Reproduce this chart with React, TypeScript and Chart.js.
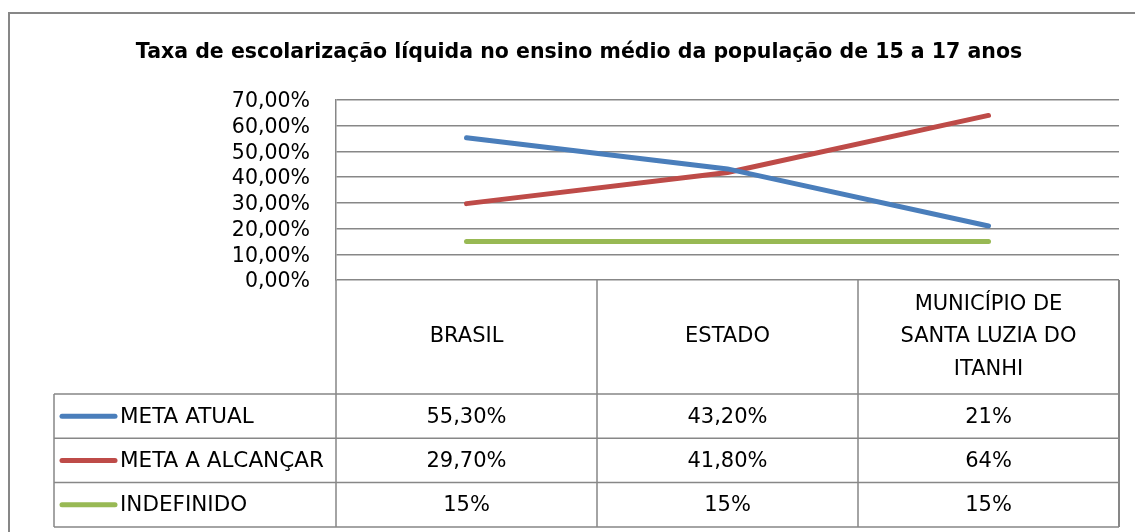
import React, { useEffect, useRef } from "react";
import { Chart, registerables } from "chart.js";

Chart.register(...registerables);

const title = "Taxa de escolarização líquida no ensino médio da população de 15 a 17 anos";
const categories = ["BRASIL", "ESTADO", "MUNICÍPIO DE SANTA LUZIA DO ITANHI"];
const categoryLines = [["BRASIL"], ["ESTADO"], ["MUNICÍPIO DE", "SANTA LUZIA DO", "ITANHI"]];
const seriesNames = ["META ATUAL", "META A ALCANÇAR", "INDEFINIDO"];
const metaAtual = [55.3, 43.2, 21];
const metaAlcancar = [29.7, 41.8, 64];
const indefinido = [15, 15, 15];
const metaAtualLabels = ["55,30%", "43,20%", "21%"];
const metaAlcancarLabels = ["29,70%", "41,80%", "64%"];
const indefinidoLabels = ["15%", "15%", "15%"];
const seriesColors = ["#4A7EBB", "#BE4B48", "#98B954"];
const yTicks = [0, 10, 20, 30, 40, 50, 60, 70];

const FONT = "'DejaVu Sans', sans-serif";
const GRID = "#878787";

const tablePlugin = {
  id: "dataTable",
  afterDraw(chart: any) {
    const ctx = chart.ctx as CanvasRenderingContext2D;
    const area = chart.chartArea;
    const xs = chart.scales.x;
    const n = categories.length;
    const colW = (area.right - area.left) / n;
    const headerBottom = 394;
    const rowH = 44.3;
    const legendLeft = 54;
    const tableBottom = headerBottom + rowH * 3;
    ctx.save();

    // outer border
    ctx.strokeStyle = GRID;
    ctx.lineWidth = 2;
    ctx.beginPath();
    ctx.moveTo(9, 540);
    ctx.lineTo(9, 13);
    ctx.lineTo(1140, 13);
    ctx.stroke();

    // title
    ctx.fillStyle = "#000";
    ctx.font = `bold 20.5px ${FONT}`;
    ctx.textAlign = "center";
    ctx.textBaseline = "middle";
    ctx.fillText(title, 579, 53);

    // table lines
    ctx.lineWidth = 1.5;
    ctx.beginPath();
    for (let i = 0; i <= n; i++) {
      const x = area.left + i * colW;
      ctx.moveTo(x, area.bottom);
      ctx.lineTo(x, tableBottom);
    }
    ctx.moveTo(legendLeft, headerBottom);
    ctx.lineTo(legendLeft, tableBottom);
    for (let r = 0; r <= 3; r++) {
      const y = headerBottom + r * rowH;
      ctx.moveTo(legendLeft, y);
      ctx.lineTo(area.right, y);
    }
    ctx.stroke();
    ctx.lineWidth = 2;
    ctx.beginPath();
    ctx.moveTo(area.right, area.bottom);
    ctx.lineTo(area.right, tableBottom);
    ctx.stroke();

    // header text
    ctx.fillStyle = "#000";
    ctx.font = `21px ${FONT}`;
    const hc = (area.bottom + headerBottom) / 2;
    categoryLines.forEach((lines, i) => {
      const cx = xs.getPixelForValue(i);
      const lh = 32.5;
      lines.forEach((t, k) => {
        ctx.fillText(t, cx, hc + (k - (lines.length - 1) / 2) * lh);
      });
    });

    // rows
    const rowLabels = [metaAtualLabels, metaAlcancarLabels, indefinidoLabels];
    rowLabels.forEach((labels, r) => {
      const cy = headerBottom + rowH * (r + 0.5);
      ctx.font = `21px ${FONT}`;
      labels.forEach((t, i) => {
        ctx.textAlign = "center";
        ctx.fillText(t, xs.getPixelForValue(i), cy + 1);
      });
      ctx.strokeStyle = seriesColors[r];
      ctx.lineWidth = 5;
      ctx.lineCap = "round";
      ctx.beginPath();
      ctx.moveTo(62, cy);
      ctx.lineTo(115, cy);
      ctx.stroke();
      ctx.textAlign = "left";
      ctx.font = `21.5px ${FONT}`;
      ctx.fillText(seriesNames[r], 120, cy + 1);
    });
    ctx.restore();
  },
};

export default function App() {
  const ref = useRef<HTMLCanvasElement | null>(null);
  useEffect(() => {
    if (!ref.current) return;
    const chart = new Chart(ref.current, {
      type: "line",
      data: {
        labels: categories,
        datasets: [
          { label: seriesNames[0], data: metaAtual, borderColor: seriesColors[0] },
          { label: seriesNames[1], data: metaAlcancar, borderColor: seriesColors[1] },
          { label: seriesNames[2], data: indefinido, borderColor: seriesColors[2] },
        ].map((d) => ({
          ...d,
          backgroundColor: d.borderColor,
          borderWidth: 5,
          borderCapStyle: "round" as const,
          pointRadius: 0,
          tension: 0,
        })),
      },
      options: {
        animation: false,
        responsive: false,
        devicePixelRatio: 1,
        layout: { padding: { left: 0, top: 100, right: 16, bottom: 252 } },
        plugins: { legend: { display: false }, title: { display: false }, tooltip: { enabled: false } },
        scales: {
          x: { type: "category", display: false, offset: true },
          y: {
            min: 0,
            max: 70,
            afterFit: (s: any) => {
              s.width = 336;
            },
            afterBuildTicks: (s: any) => {
              s.ticks = yTicks.map((v) => ({ value: v }));
            },
            grid: { color: GRID, lineWidth: 1.5, drawTicks: false },
            border: { color: GRID, width: 1.5 },
            ticks: {
              autoSkip: false,
              padding: 26,
              labelOffset: 2,
              color: "#000",
              font: { family: "DejaVu Sans", size: 20.5 },
              callback: (v: any) => Number(v).toFixed(2).replace(".", ",") + "%",
            },
          },
        },
      },
      plugins: [tablePlugin],
    });
    return () => chart.destroy();
  }, []);
  return (
    <div style={{ position: "fixed", left: 0, top: 0, width: 1135, height: 532, background: "#fff" }}>
      <canvas ref={ref} width={1135} height={532} style={{ width: 1135, height: 532, display: "block" }} />
    </div>
  );
}
